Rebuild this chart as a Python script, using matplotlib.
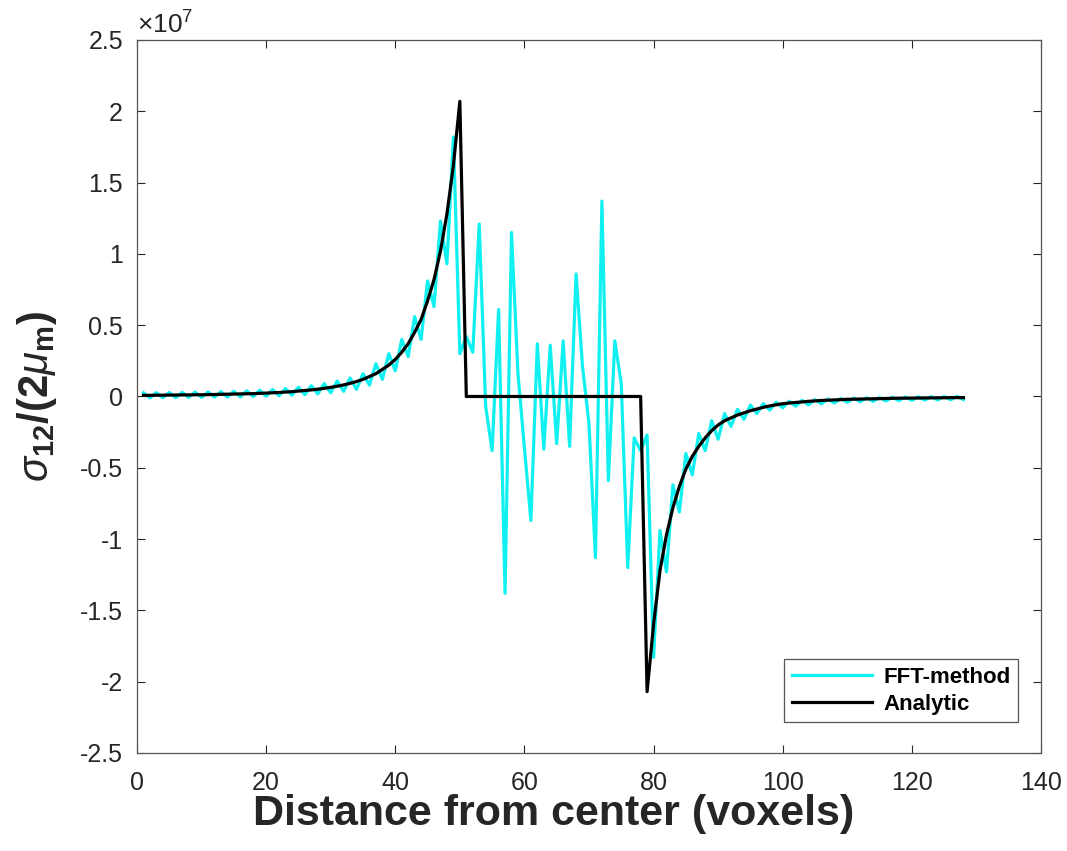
import matplotlib
matplotlib.use("Agg")
import matplotlib.pyplot as plt
import numpy as np

plt.rcParams["font.family"] = ["Liberation Sans", "DejaVu Sans"]
plt.rcParams["mathtext.fontset"] = "custom"
plt.rcParams["mathtext.rm"] = "Liberation Sans"
plt.rcParams["mathtext.it"] = "Liberation Sans:italic"
plt.rcParams["mathtext.bf"] = "Liberation Sans:bold"

# voxel index 1..128, values in units of 1e7
voxels = list(range(1, 129))

analytic_e7 = [
    0.008, 0.008, 0.009, 0.009, 0.010, 0.010, 0.011, 0.011, 0.012, 0.012,
    0.013, 0.014, 0.015, 0.016, 0.017, 0.018, 0.019, 0.020, 0.022, 0.024,
    0.026, 0.028, 0.031, 0.034, 0.038, 0.042, 0.046, 0.051, 0.057, 0.064,
    0.072, 0.081, 0.092, 0.105, 0.12, 0.14, 0.16, 0.19, 0.22, 0.26,
    0.31, 0.37, 0.45, 0.54, 0.67, 0.82, 1.02, 1.28, 1.62, 2.07,
    0, 0, 0, 0, 0, 0, 0, 0, 0, 0,
    0, 0, 0, 0, 0, 0, 0, 0, 0, 0,
    0, 0, 0, 0, 0, 0, 0, 0,
    -2.07, -1.60, -1.22, -0.97, -0.78, -0.63, -0.51, -0.42, -0.35, -0.29,
    -0.24, -0.20, -0.17, -0.15, -0.13, -0.115, -0.10, -0.088, -0.076, -0.066,
    -0.058, -0.051, -0.046, -0.042, -0.038, -0.034, -0.031, -0.028, -0.026, -0.024,
    -0.022, -0.020, -0.019, -0.018, -0.017, -0.016, -0.015, -0.014, -0.013, -0.012,
    -0.012, -0.011, -0.011, -0.010, -0.010, -0.009, -0.009, -0.008, -0.008, -0.008,
]

fft_e7 = [
    0.026, -0.010, 0.027, -0.009, 0.028, -0.008, 0.029, -0.007, 0.031, -0.007,
    0.032, -0.005, 0.034, -0.004, 0.037, -0.003, 0.040, -0.001, 0.044, 0.002,
    0.049, 0.005, 0.056, 0.009, 0.065, 0.013, 0.076, 0.018, 0.090, 0.026,
    0.108, 0.036, 0.13, 0.05, 0.16, 0.08, 0.23, 0.12, 0.30, 0.18,
    0.40, 0.28, 0.56, 0.40, 0.81, 0.63, 1.23, 0.93, 1.82, 0.30,
    0.42, 0.31, 1.21, -0.07, -0.38, 0.61, -1.38, 1.15, 0.16, -0.36,
    -0.87, 0.37, -0.37, 0.36, -0.33, 0.39, -0.35, 0.86, 0.21, -0.19,
    -1.13, 1.37, -0.59, 0.39, 0.09, -1.20, -0.29, -0.38, -0.27, -1.83,
    -0.94, -1.23, -0.62, -0.81, -0.40, -0.55, -0.26, -0.38, -0.17, -0.30,
    -0.12, -0.21, -0.09, -0.16, -0.06, -0.12, -0.05, -0.095, -0.04, -0.08,
    -0.033, -0.068, -0.027, -0.059, -0.022, -0.052, -0.018, -0.046, -0.014, -0.041,
    -0.011, -0.037, -0.009, -0.034, -0.007, -0.031, -0.005, -0.029, -0.003, -0.027,
    -0.002, -0.025, -0.001, -0.024, 0.000, -0.023, 0.001, -0.022,
]

x_ticks = [0, 20, 40, 60, 80, 100, 120, 140]
y_ticks = [-2.5, -2, -1.5, -1, -0.5, 0, 0.5, 1, 1.5, 2, 2.5]
y_tick_labels = ["-2.5", "-2", "-1.5", "-1", "-0.5", "0", "0.5", "1", "1.5", "2", "2.5"]

text_col = "#262626"
fig = plt.figure(figsize=(10.67, 8.51), dpi=100)
ax = fig.add_axes([0.1284, 0.1152, 0.8472, 0.8378])

ax.plot(voxels, fft_e7, color="#11f0f0", lw=2.3, label="FFT-method")
ax.plot(voxels, analytic_e7, color="black", lw=2.3, label="Analytic")

ax.set_xlim(0, 140)
ax.set_ylim(-2.5, 2.5)
ax.set_xticks(x_ticks)
ax.set_yticks(y_ticks)
ax.set_yticklabels(y_tick_labels)
ax.tick_params(direction="in", length=6, width=0.8, top=True, right=True,
               labelsize=18, colors=text_col)
ax.tick_params(axis="x", pad=13)
ax.tick_params(axis="y", pad=10)
for s in ax.spines.values():
    s.set_color("#555555")
    s.set_linewidth(0.9)

ax.text(0.0, 1.002, r"$\times$10$^{7}$", transform=ax.transAxes, ha="left", va="bottom",
        fontsize=19, color=text_col)

ax.set_xlabel("Distance from center (voxels)", fontsize=31, fontweight="bold", color=text_col)
ax.xaxis.set_label_coords(0.461, -0.057)
ax.set_ylabel(r"$\sigma_{\mathbf{12}}\mathbf{/(2}\mu_{\mathbf{m}}\mathbf{)}$", fontsize=30,
              color=text_col)
ax.yaxis.set_label_coords(-0.086, 0.5)

leg = ax.legend(loc="lower right", bbox_to_anchor=(0.975, 0.043),
                prop={"weight": "bold", "size": 16}, fancybox=False, framealpha=1,
                edgecolor="#555555", handlelength=3.6, handletextpad=0.5,
                borderpad=0.35, labelspacing=0.25, borderaxespad=0.0)
leg.get_frame().set_linewidth(0.9)

fig.savefig("out.png", dpi=100)
